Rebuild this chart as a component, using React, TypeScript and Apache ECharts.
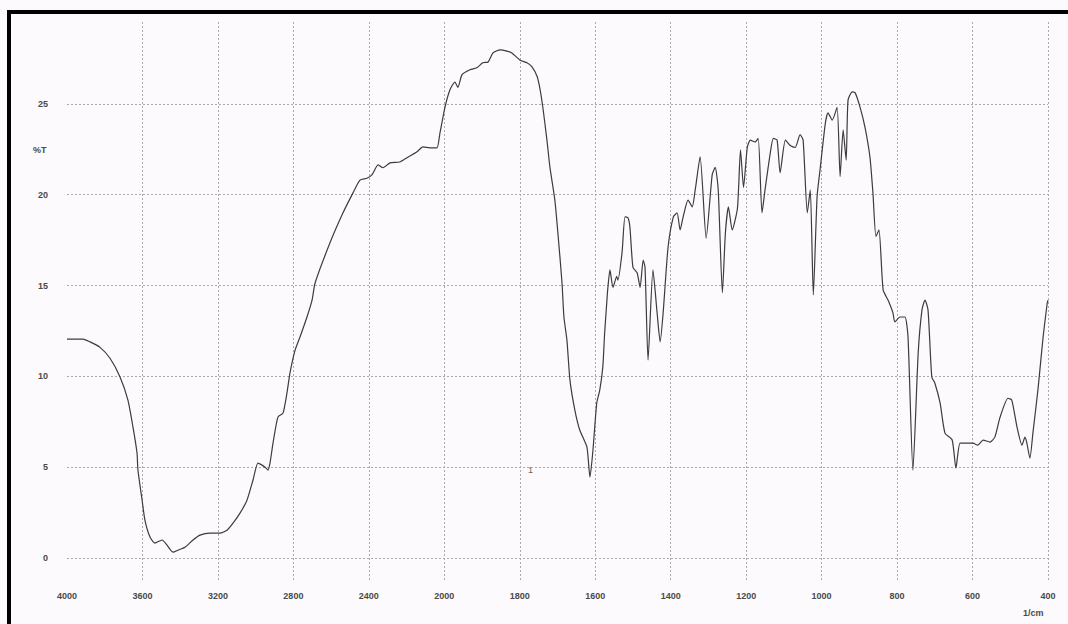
import React, { useEffect, useRef } from "react";
import * as echarts from "echarts";

// Wavenumbers (1/cm), descending
const wavenumbers = [
  4000, 3915, 3878, 3825, 3772, 3719, 3677, 3650, 3629, 3624, 3602, 3587, 3560, 3534, 3496, 3470,
  3438, 3412, 3375, 3332, 3295, 3242, 3189, 3152, 3120, 3083, 3046, 3014, 2988, 2966, 2950, 2935,
  2924, 2908, 2882, 2855, 2834, 2818, 2791, 2765, 2728, 2701, 2685, 2606, 2537, 2484, 2447, 2410,
  2383, 2351, 2325, 2288, 2235, 2198, 2145, 2113, 2076, 2039, 2023, 1998, 1985, 1972, 1964, 1953,
  1932, 1914, 1898, 1884, 1871, 1852, 1834, 1821, 1799, 1781, 1768, 1754, 1746, 1738, 1728, 1720,
  1707, 1699, 1688, 1683, 1675, 1667, 1654, 1641, 1622, 1614, 1606, 1596, 1588, 1580, 1575, 1569,
  1567, 1561, 1553, 1543, 1540, 1529, 1521, 1513, 1508, 1500, 1489, 1481, 1473, 1468, 1460, 1447,
  1436, 1428, 1420, 1407, 1393, 1383, 1375, 1367, 1354, 1343, 1335, 1322, 1306, 1290, 1282, 1274,
  1263, 1255, 1247, 1237, 1223, 1215, 1207, 1197, 1189, 1176, 1168, 1158, 1150, 1136, 1128, 1118,
  1110, 1096, 1083, 1070, 1057, 1049, 1038, 1030, 1022, 1012, 1004, 990, 983, 972, 959, 951,
  943, 935, 930, 919, 911, 898, 885, 872, 864, 856, 848, 837, 824, 811, 806, 792,
  779, 771, 758, 744, 734, 726, 718, 708, 700, 686, 673, 654, 644, 633, 615, 599,
  586, 572, 554, 541, 527, 506, 496, 482, 469, 461, 456, 448, 440, 426, 413, 402, 400,
];

// Transmittance (%T) at each wavenumber above
const transmittance = [
  12.05, 12.05, 11.9, 11.6, 11.0, 9.97, 8.7, 7.2, 5.8, 4.85, 3.2, 2.1, 1.16, 0.83, 1.0, 0.72,
  0.33, 0.44, 0.6, 1.0, 1.27, 1.38, 1.38, 1.54, 1.93, 2.48, 3.19, 4.3, 5.23, 5.12, 5.0, 4.85,
  5.23, 6.33, 7.76, 7.98, 9.09, 10.19, 11.45, 12.17, 13.27, 14.2, 15.14, 17.35, 19.0, 20.1, 20.8, 20.9,
  21.1, 21.64, 21.48, 21.75, 21.8, 22.03, 22.36, 22.63, 22.58, 22.58, 23.4, 24.83, 25.77, 26.2, 25.9, 26.6,
  26.87, 26.98, 27.26, 27.3, 27.8, 27.97, 27.9, 27.8, 27.4, 27.26, 27.04, 26.5, 25.77, 24.67, 23.0, 21.5,
  19.7, 17.9, 15.14, 13.27, 12.0, 9.8, 8.15, 7.05, 6.11, 4.46, 5.95, 8.54, 9.25, 10.5, 12.4, 14.2,
  14.76, 15.86, 14.9, 15.5, 15.3, 16.8, 18.78, 18.72, 18.2, 16.0, 15.7, 14.9, 16.4, 16.0, 10.9, 15.86,
  13.5, 11.9, 13.5, 17.1, 18.78, 19.0, 18.06, 18.78, 19.7, 19.33, 20.26, 22.08, 17.6, 21.1, 21.5, 20.26,
  14.6, 17.9, 19.33, 18.06, 19.27, 22.47, 20.4, 22.6, 23.0, 22.9, 23.1, 19.0, 20.26, 22.3, 23.1, 23.0,
  21.2, 23.0, 22.7, 22.6, 23.3, 23.0, 19.0, 20.26, 14.48, 19.9, 21.4, 23.95, 24.5, 24.1, 24.8, 21.0,
  23.57, 21.9, 25.2, 25.66, 25.6, 24.8, 23.7, 22.08, 20.1, 17.7, 18.06, 14.76, 14.2, 13.5, 13.0, 13.27,
  13.27, 12.17, 4.85, 11.3, 13.66, 14.2, 13.66, 9.97, 9.64, 8.54, 6.88, 6.5, 4.96, 6.33, 6.33, 6.33,
  6.22, 6.5, 6.39, 6.66, 7.76, 8.8, 8.7, 7.2, 6.22, 6.66, 6.33, 5.5, 6.88, 9.4, 12.17, 14.04, 14.2,
];

// X tick labels (1/cm); the chart's scale changes at 2000
const xTickLabels = [4000, 3600, 3200, 2800, 2400, 2000, 1800, 1600, 1400, 1200, 1000, 800, 600, 400];
const yTickLabels = [0, 5, 10, 15, 20, 25];

// map wavenumber to position on the piecewise instrument scale
const toPos = (w: number) => (w >= 2000 ? (4000 - w) / 400 : 5 + (2000 - w) / 200);

const FONT = "bold 9px 'Liberation Sans', Arial, sans-serif";

export default function App() {
  const ref = useRef<HTMLDivElement>(null);
  useEffect(() => {
    if (!ref.current) return;
    const chart = echarts.init(ref.current, null, { renderer: "svg" });
    const data = wavenumbers.map((w, i) => [toPos(w), transmittance[i]]);
    const labelFont = {
      fontFamily: "'Liberation Sans', Arial, sans-serif",
      fontSize: 9,
      fontWeight: "bold" as const,
      color: "#4a4a4a",
    };
    const gridStyle = { color: "#aaaaaa", type: [2, 2] as number[], width: 1 };
    chart.setOption({
      animation: false,
      backgroundColor: "#fcfafc",
      grid: { left: 67, right: 20, top: 22, bottom: 44, containLabel: false },
      xAxis: {
        type: "value",
        min: 0,
        max: xTickLabels.length - 1,
        interval: 1,
        axisLine: { show: false },
        axisTick: { show: false },
        axisLabel: {
          ...labelFont,
          margin: 11,
          formatter: (v: number) => {
            const i = Math.round(v);
            return Math.abs(v - i) < 1e-6 && xTickLabels[i] != null ? String(xTickLabels[i]) : "";
          },
        },
        splitLine: { show: true, showMinLine: false, lineStyle: gridStyle },
      },
      yAxis: {
        type: "value",
        min: -1.2,
        max: 29.5,
        minInterval: 5,
        maxInterval: 5,
        axisLine: { show: false },
        axisTick: { show: false },
        axisLabel: {
          ...labelFont,
          margin: 19,
          showMinLabel: false,
          showMaxLabel: false,
          formatter: (v: number) => {
            const r = Math.round(v);
            return Math.abs(v - r) < 1e-6 && yTickLabels.includes(r) ? String(r) : "";
          },
        },
        splitLine: { show: true, showMinLine: false, showMaxLine: false, lineStyle: gridStyle },
      },
      graphic: [
        {
          type: "rect",
          silent: true,
          shape: { x: 9, y: 12, width: 1200, height: 800 },
          style: { fill: "none", stroke: "#000", lineWidth: 4 },
        },
        {
          type: "text",
          x: 33,
          y: 150,
          style: { text: "%T", fill: "#4a4a4a", font: FONT, verticalAlign: "middle" },
        },
        {
          type: "text",
          x: 1023,
          y: 613,
          style: { text: "1/cm", fill: "#4a4a4a", font: FONT, verticalAlign: "middle" },
        },
        {
          type: "text",
          x: 528,
          y: 465,
          style: { text: "1", fill: "#666", font: "9px 'Liberation Sans', Arial, sans-serif" },
        },
      ],
      series: [
        {
          type: "line",
          data,
          showSymbol: false,
          smooth: 0.2,
          lineStyle: { color: "#3c3c3c", width: 1.2 },
        },
      ],
    });
    return () => chart.dispose();
  }, []);
  return (
    <div
      ref={ref}
      style={{ position: "fixed", left: 0, top: 0, width: 1068, height: 624 }}
    />
  );
}
